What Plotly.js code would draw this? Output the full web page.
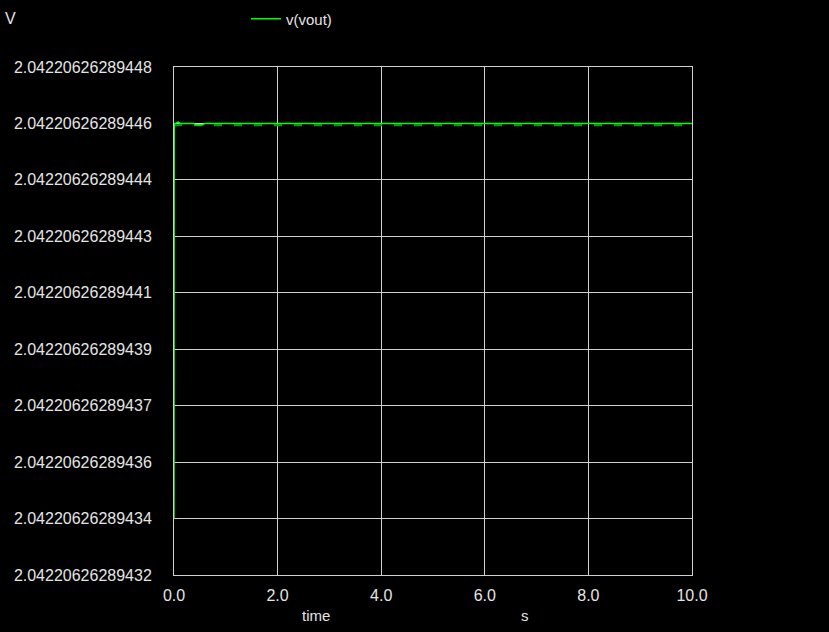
<!DOCTYPE html>
<html>
<head>
<meta charset="utf-8">
<script src="https://cdn.plot.ly/plotly-3.0.1.min.js"></script>
<style>
html,body{margin:0;padding:0;background:#000;}
#chart{width:829px;height:632px;}
</style>
</head>
<body>
<div id="chart"></div>
<script>
// y values are offsets from 2.04220626289432 V, in units of 2^-51 V (≈4.44e-16 V)
const yTickVals = [0, 4, 8, 12, 16, 20, 24, 28, 32, 36];
const yTickLabels = [
  "2.04220626289432", "2.04220626289434", "2.04220626289436", "2.04220626289437",
  "2.04220626289439", "2.04220626289441", "2.04220626289443", "2.04220626289444",
  "2.04220626289446", "2.04220626289448"
];
const xTickVals = [0, 2, 4, 6, 8, 10];
const xTickLabels = ["0.0", "2.0", "4.0", "6.0", "8.0", "10.0"];

const voutTime = [0, 0.005, 0.03, 0.08, 0.12, 0.38, 0.42, 0.55, 0.6, 10];
const voutVal  = [4, 32, 32, 32.1, 32, 32, 31.9, 31.9, 32, 32];

const refTime = [0, 0.02, 10];
const refVal  = [31.88, 31.88, 31.88];

const font = {family: "Liberation Sans, Arial, sans-serif", size: 16, color: "#e4e4e4"};
const gridColor = "#d0d0d0";

const traces = [
  {
    x: refTime, y: refVal, mode: "lines", showlegend: false, hoverinfo: "skip",
    line: {color: "#00a000", width: 2, dash: "8px,12px"}
  },
  {
    x: voutTime, y: voutVal, mode: "lines", name: "v(vout)",
    line: {color: "#00ff00", width: 1.5}
  }
];

const layout = {
  width: 829, height: 632,
  paper_bgcolor: "#000", plot_bgcolor: "#000",
  font: font,
  margin: {l: 174, r: 137, t: 67, b: 57, autoexpand: false},
  showlegend: true,
  legend: {
    x: 0.139, y: 1.0945, xanchor: "left", yanchor: "middle",
    bgcolor: "rgba(0,0,0,0)", font: {family: font.family, size: 15, color: "#e4e4e4"}
  },
  xaxis: {
    range: [0, 10], tickvals: xTickVals, ticktext: xTickLabels,
    showgrid: true, gridcolor: gridColor, gridwidth: 1,
    zeroline: false, showline: true, linecolor: gridColor, linewidth: 1, mirror: true,
    ticks: "", ticklabelstandoff: 6, tickfont: font
  },
  yaxis: {
    range: [0, 36], tickvals: yTickVals, ticktext: yTickLabels,
    showgrid: true, gridcolor: gridColor, gridwidth: 1,
    zeroline: false, showline: true, linecolor: gridColor, linewidth: 1, mirror: true,
    ticks: "", ticklabelstandoff: 18, tickfont: font
  },
  annotations: [
    {text: "V", xref: "paper", yref: "paper", x: -0.331, y: 1.0945, xanchor: "left", yanchor: "middle", showarrow: false, font: font},
    {text: "time", xref: "paper", yref: "paper", x: 0.274, y: -0.0807, xanchor: "center", yanchor: "middle", showarrow: false, font: {family: font.family, size: 15, color: "#e4e4e4"}},
    {text: "s", xref: "paper", yref: "paper", x: 0.678, y: -0.0807, xanchor: "center", yanchor: "middle", showarrow: false, font: {family: font.family, size: 15, color: "#e4e4e4"}}
  ]
};

Plotly.newPlot("chart", traces, layout, {displayModeBar: false, staticPlot: true});
</script>
</body>
</html>
